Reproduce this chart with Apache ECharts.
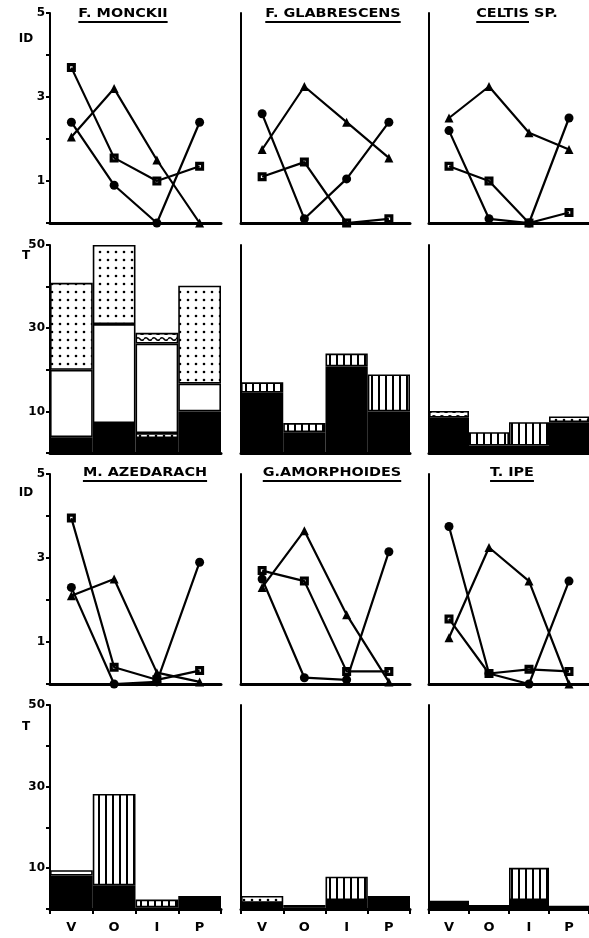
<!DOCTYPE html>
<html>
<head>
<meta charset="utf-8">
<script src="https://cdn.jsdelivr.net/npm/echarts@6/dist/echarts.min.js"></script>
<style>
  html, body { margin: 0; padding: 0; background: #fff; }
  #chart { width: 589px; height: 938px; }
</style>
</head>
<body>
<div id="chart"></div>
<script>
// ---- categories and labels ----
const periods = ['V', 'O', 'I', 'P'];
const idTickLabels = [1, 3, 5];
const tTickLabels = [10, 30, 50];
const speciesTop = ['F. MONCKII', 'F. GLABRESCENS', 'CELTIS SP.'];
const speciesBottom = ['M. AZEDARACH', 'G.AMORPHOIDES', 'T. IPE'];

// ---- ID index per period (three series per species) ----
const monckiiCircle   = [2.4, 0.9, 0.0, 2.4];
const monckiiTriangle = [2.05, 3.2, 1.5, 0.0];
const monckiiSquare   = [3.7, 1.55, 1.0, 1.35];

const glabrescensCircle   = [2.6, 0.1, 1.05, 2.4];
const glabrescensTriangle = [1.75, 3.25, 2.4, 1.55];
const glabrescensSquare   = [1.1, 1.45, 0.0, 0.1];

const celtisCircle   = [2.2, 0.1, 0.0, 2.5];
const celtisTriangle = [2.5, 3.25, 2.15, 1.75];
const celtisSquare   = [1.35, 1.0, 0.0, 0.25];

const azedarachCircle   = [2.3, 0.0, 0.05, 2.9];
const azedarachTriangle = [2.1, 2.5, 0.27, 0.05];
const azedarachSquare   = [3.95, 0.4, 0.1, 0.32];

const amorphoidesCircle   = [2.5, 0.15, 0.1, 3.15];
const amorphoidesTriangle = [2.3, 3.65, 1.65, 0.05];
const amorphoidesSquare   = [2.7, 2.45, 0.3, 0.3];

const ipeCircle   = [3.75, 0.25, 0.0, 2.45];
const ipeTriangle = [1.1, 3.25, 2.45, 0.0];
const ipeSquare   = [1.55, 0.25, 0.35, 0.3];

// ---- T per period, stacked layers from the bottom up ----
const monckiiSolid   = [3.8, 7.2, 3.6, 10.0];
const monckiiDotsLow = [0, 0, 1.2, 0];
const monckiiOpen    = [16.2, 23.8, 21.5, 6.7];
const monckiiWavy    = [0, 0, 2.6, 0];
const monckiiDots    = [20.9, 19.0, 0, 23.5];

const glabrescensSolid   = [14.5, 5.0, 20.8, 10.0];
const glabrescensStripes = [2.5, 2.2, 3.1, 8.9];

const celtisSolid   = [8.5, 1.8, 1.8, 7.4];
const celtisDotsLow = [0, 0, 0, 1.4];
const celtisWavy    = [1.6, 0, 0, 0];
const celtisStripes = [0, 3.2, 5.6, 0];

const azedarachSolid   = [8.2, 5.8, 0.4, 3.2];
const azedarachDotsLow = [1.3, 0, 0, 0];
const azedarachStripes = [0, 22.4, 1.9, 0];

const amorphoidesSolid   = [1.5, 0.3, 2.2, 3.2];
const amorphoidesDotsLow = [1.7, 0.7, 0, 0];
const amorphoidesStripes = [0, 0, 5.7, 0];

const ipeSolid   = [2.0, 0.2, 2.2, 0.2];
const ipeDotsLow = [0, 0.8, 0, 0.6];
const ipeStripes = [0, 0, 7.9, 0];

// ---- panel assembly ----
const idPanels = [
  { row: 0, col: 0, title: speciesTop[0], circle: monckiiCircle, triangle: monckiiTriangle, square: monckiiSquare },
  { row: 0, col: 1, title: speciesTop[1], circle: glabrescensCircle, triangle: glabrescensTriangle, square: glabrescensSquare },
  { row: 0, col: 2, title: speciesTop[2], circle: celtisCircle, triangle: celtisTriangle, square: celtisSquare },
  { row: 2, col: 0, title: speciesBottom[0], circle: azedarachCircle, triangle: azedarachTriangle, square: azedarachSquare },
  { row: 2, col: 1, title: speciesBottom[1], circle: amorphoidesCircle, triangle: amorphoidesTriangle, square: amorphoidesSquare },
  { row: 2, col: 2, title: speciesBottom[2], circle: ipeCircle, triangle: ipeTriangle, square: ipeSquare }
];
const tPanels = [
  { row: 1, col: 0, solid: monckiiSolid, dotsLow: monckiiDotsLow, open: monckiiOpen, wavy: monckiiWavy, dots: monckiiDots },
  { row: 1, col: 1, solid: glabrescensSolid, stripes: glabrescensStripes },
  { row: 1, col: 2, solid: celtisSolid, dotsLow: celtisDotsLow, wavy: celtisWavy, stripes: celtisStripes },
  { row: 3, col: 0, solid: azedarachSolid, dotsLow: azedarachDotsLow, stripes: azedarachStripes },
  { row: 3, col: 1, solid: amorphoidesSolid, dotsLow: amorphoidesDotsLow, stripes: amorphoidesStripes },
  { row: 3, col: 2, solid: ipeSolid, dotsLow: ipeDotsLow, stripes: ipeStripes }
];

// ---- layout ----
const cols = [{ left: 50, width: 171 }, { left: 241, width: 169 }, { left: 429, width: 168 }];
const rows = [{ top: 13, height: 210 }, { top: 245, height: 208 }, { top: 474, height: 210 }, { top: 705, height: 204 }];
const titlePos = [[123, 333, 517], null, [145, 332, 512], null];
const titleTop = [8, null, 467, null];

const FONT = '"DejaVu Sans", "Liberation Sans", sans-serif';

// ---- fill patterns ----
function tile(w, h, paint) {
  const c = document.createElement('canvas');
  c.width = w; c.height = h;
  const g = c.getContext('2d');
  g.fillStyle = '#fff'; g.fillRect(0, 0, w, h);
  g.fillStyle = '#000'; g.strokeStyle = '#000';
  paint(g);
  return { image: c, repeat: 'repeat' };
}
const dotsFill = tile(8, 8, g => { g.beginPath(); g.arc(4, 4, 1.3, 0, Math.PI * 2); g.fill(); });
const stripesFill = tile(7, 4, g => g.fillRect(0, 0, 2, 4));
const wavyFill = tile(8, 6, g => {
  g.lineWidth = 1.6; g.beginPath(); g.moveTo(0, 3);
  g.quadraticCurveTo(2, 0.5, 4, 3); g.quadraticCurveTo(6, 5.5, 8, 3); g.stroke();
});
const layers = [
  ['solid', '#000'], ['dotsLow', dotsFill], ['open', '#fff'],
  ['wavy', wavyFill], ['dots', dotsFill], ['stripes', stripesFill]
];

// square marker with a small open centre
const squareSymbol = 'path://M0,0L10,0L10,10L0,10Z M3.6,3.6L3.6,6.4L6.4,6.4L6.4,3.6Z';

const grids = [], xAxes = [], yAxes = [], series = [], graphics = [];

for (let r = 0; r < 4; r++) {
  for (let c = 0; c < 3; c++) {
    const isId = (r % 2 === 0);
    const idx = grids.length;
    grids.push({ left: cols[c].left, width: cols[c].width, top: rows[r].top, height: rows[r].height, containLabel: false });
    xAxes.push({
      gridIndex: idx, type: 'category', data: periods, boundaryGap: true,
      axisLine: { show: true, lineStyle: { color: '#000', width: 3 } },
      axisTick: { show: r === 3, length: 5, lineStyle: { color: '#000', width: 2 } },
      axisLabel: { show: r === 3, color: '#000', fontFamily: FONT, fontWeight: 'bold', fontSize: 13, margin: 12 },
      splitLine: { show: false }
    });
    const labels = isId ? idTickLabels : tTickLabels;
    yAxes.push({
      gridIndex: idx, type: 'value', min: 0, max: isId ? 5 : 50, interval: isId ? 1 : 10,
      axisLine: { show: true, lineStyle: { color: '#000', width: 2 } },
      axisTick: { show: c === 0, length: 4, lineStyle: { color: '#000', width: 2 } },
      axisLabel: {
        show: c === 0, color: '#000', fontFamily: FONT, fontWeight: 'bold', fontSize: 12, margin: 5,
        formatter: v => (labels.indexOf(v) >= 0 ? String(v) : '')
      },
      splitLine: { show: false }
    });
  }
}

const panelIndex = (row, col) => row * 3 + col;

idPanels.forEach(p => {
  const i = panelIndex(p.row, p.col);
  const common = {
    type: 'line', xAxisIndex: i, yAxisIndex: i, symbolSize: 9,
    lineStyle: { color: '#000', width: 2.2 }, itemStyle: { color: '#000' }, z: 3
  };
  series.push(Object.assign({ name: p.title + ' circle', data: p.circle, symbol: 'circle' }, common));
  series.push(Object.assign({ name: p.title + ' triangle', data: p.triangle, symbol: 'triangle' }, common));
  series.push(Object.assign({ name: p.title + ' square', data: p.square, symbol: squareSymbol }, common));
});

tPanels.forEach(p => {
  const i = panelIndex(p.row, p.col);
  layers.forEach(([key, fill]) => {
    if (!p[key]) return;
    series.push({
      type: 'bar', name: key, xAxisIndex: i, yAxisIndex: i, stack: 'panel' + i,
      barCategoryGap: '0%', data: p[key].map(v => (v > 0 ? v : '-')),
      itemStyle: { color: fill, borderColor: '#000', borderWidth: 1.6 },
      emphasis: { disabled: true }
    });
  });
});

// ---- titles with underlines ----
const measure = document.createElement('canvas').getContext('2d');
const titleFont = 'bold 12px ' + FONT;
measure.font = titleFont;
[[0, speciesTop], [2, speciesBottom]].forEach(([r, names]) => {
  names.forEach((name, c) => {
    const cx = titlePos[r][c], ty = titleTop[r];
    const w = measure.measureText(name).width;
    const sx = 1.2;
    const under = / SP\.$/.test(name) ? name.replace(/ SP\.$/, '') : name;
    const uw = measure.measureText(under).width;
    graphics.push({
      type: 'text', x: cx, y: ty, scaleX: sx, originX: 0, originY: 0,
      style: { text: name, font: titleFont, fill: '#000', textAlign: 'center', textVerticalAlign: 'top' }
    });
    const x0 = cx - (w / 2) * sx;
    graphics.push({
      type: 'line', shape: { x1: x0, y1: ty + 14, x2: x0 + uw * sx, y2: ty + 14 },
      style: { stroke: '#000', lineWidth: 2 }
    });
  });
});

// ---- axis names ----
[['ID', 39], ['T', 256], ['ID', 493], ['T', 727]].forEach(([txt, y]) => {
  graphics.push({
    type: 'text', x: 26, y: y,
    style: { text: txt, font: 'bold 12px ' + FONT, fill: '#000', textAlign: 'center', textVerticalAlign: 'middle' }
  });
});

const chart = echarts.init(document.getElementById('chart'), null, { renderer: 'canvas' });
chart.setOption({
  animation: false,
  backgroundColor: '#fff',
  grid: grids,
  xAxis: xAxes,
  yAxis: yAxes,
  series: series,
  graphic: graphics
});
</script>
</body>
</html>
